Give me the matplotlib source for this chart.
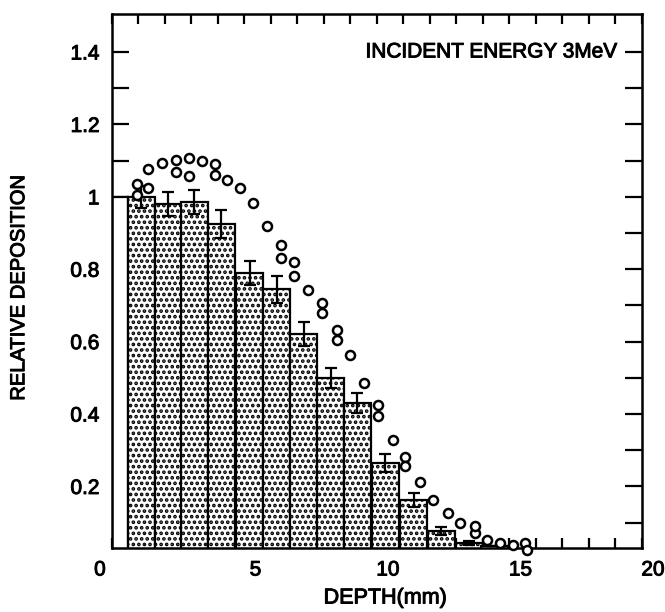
import numpy as np
import matplotlib
matplotlib.use("Agg")
import matplotlib.pyplot as plt
import matplotlib.transforms as mtransforms
import matplotlib.patheffects as pe

plt.rcParams['font.family'] = ['Liberation Sans', 'DejaVu Sans']
plt.rcParams['hatch.linewidth'] = 1.8

# Measured deposition per depth bin (mm), with one-sigma error bars
bin_left = [0.60, 1.62, 2.60, 3.62, 4.68, 5.70, 6.72, 7.74, 8.75, 9.81, 10.87, 11.92, 12.98, 13.92]
bin_width = 1.02
deposition = [1.00, 0.98, 0.985, 0.925, 0.79, 0.745, 0.62, 0.50, 0.43, 0.265, 0.163, 0.077, 0.043, 0.036]
deposition_err = [0.03, 0.033, 0.033, 0.038, 0.033, 0.037, 0.033, 0.028, 0.027, 0.025, 0.02, 0.012, 0.006, 0.0]

# Surface layer in front of the first bin
surface_right = 0.60
surface_value = 1.00

# Calculated deposition points
calc_depth = [0.94, 0.94, 1.36, 1.36, 1.89, 2.42, 2.42, 2.91, 2.91, 3.40, 3.89, 3.89, 4.34, 4.83,
              5.32, 5.85, 6.38, 6.38, 6.87, 6.87, 7.40, 7.92, 7.92, 8.49, 8.49, 8.98,
              9.51, 10.04, 10.04, 10.60, 11.06, 11.06, 11.62, 12.11, 12.68, 13.13,
              13.70, 13.70, 14.15, 14.64, 15.13, 15.58, 15.66]
calc_value = [1.036, 1.006, 1.025, 1.077, 1.094, 1.102, 1.069, 1.108, 1.058, 1.099, 1.091, 1.061, 1.047, 1.025,
              0.983, 0.920, 0.867, 0.831, 0.820, 0.782, 0.743, 0.707, 0.680, 0.633, 0.605, 0.564,
              0.486, 0.425, 0.395, 0.329, 0.282, 0.257, 0.213, 0.163, 0.127, 0.099,
              0.072, 0.092, 0.052, 0.044, 0.039, 0.044, 0.025]

x_ticks = [0, 5, 10, 15, 20]
y_ticks = [0.2, 0.4, 0.6, 0.8, 1.0, 1.2, 1.4]
y_tick_labels = ["0.2", "0.4", "0.6", "0.8", "1", "1.2", "1.4"]

heavy = [pe.withStroke(linewidth=0.7, foreground='black')]

fig = plt.figure(figsize=(6.65, 6.12), dpi=100)
ax = fig.add_axes([0.1684, 0.1046, 0.7970, 0.8725])

ax.bar([0], [surface_value], width=surface_right, align='edge', bottom=0,
       facecolor='white', edgecolor='black', linewidth=1.6, zorder=2)
ax.bar(bin_left, deposition, width=bin_width, align='edge', bottom=0,
       facecolor='white', edgecolor='black', hatch='...', linewidth=1.6, zorder=2)
centers = np.array(bin_left) + bin_width / 2
ax.errorbar(centers, deposition, yerr=deposition_err, fmt='none', ecolor='black',
            elinewidth=1.6, capsize=4, capthick=1.6, zorder=3)

ax.plot(calc_depth, calc_value, linestyle='none', marker='o', markersize=6.5,
        markerfacecolor='white', markeredgecolor='black', markeredgewidth=1.8,
        zorder=4, clip_on=False)

ax.set_xlim(0, 20)
ax.set_ylim(0.03, 1.505)
ax.set_xticks(x_ticks)
ax.set_xticks(np.arange(0, 21, 1), minor=True)
ax.set_yticks(y_ticks)
ax.set_yticklabels(y_tick_labels)
ax.set_yticks(np.arange(0.1, 1.5, 0.1), minor=True)

ax.tick_params(axis='both', which='both', direction='in', top=True, right=True,
               width=1.6, labelsize=15, colors='black')
ax.tick_params(axis='y', which='both', length=12, pad=9)
ax.tick_params(axis='x', which='both', length=7, pad=9)
for s in ax.spines.values():
    s.set_linewidth(1.8)

# hand-lettered tick labels sit a little off their ticks
for lbl, val in zip(ax.get_xticklabels(), x_ticks):
    dx = -12 if val == 0 else 11
    lbl.set_transform(lbl.get_transform() +
                      mtransforms.ScaledTranslation(dx / 100, 0, fig.dpi_scale_trans))
for lbl in ax.get_xticklabels() + ax.get_yticklabels():
    lbl.set_path_effects(heavy)

ax.set_xlabel("DEPTH(mm)", fontsize=15.5, path_effects=heavy)
ax.xaxis.set_label_coords(0.515, -0.074)
ax.set_ylabel("RELATIVE DEPOSITION", fontsize=14.5, path_effects=heavy)
ax.yaxis.set_label_coords(-0.158, 0.487)
ax.text(0.955, 0.929, "INCIDENT ENERGY 3MeV", transform=ax.transAxes,
        ha='right', va='center', fontsize=15, path_effects=heavy)

fig.savefig("out.png", dpi=100)
